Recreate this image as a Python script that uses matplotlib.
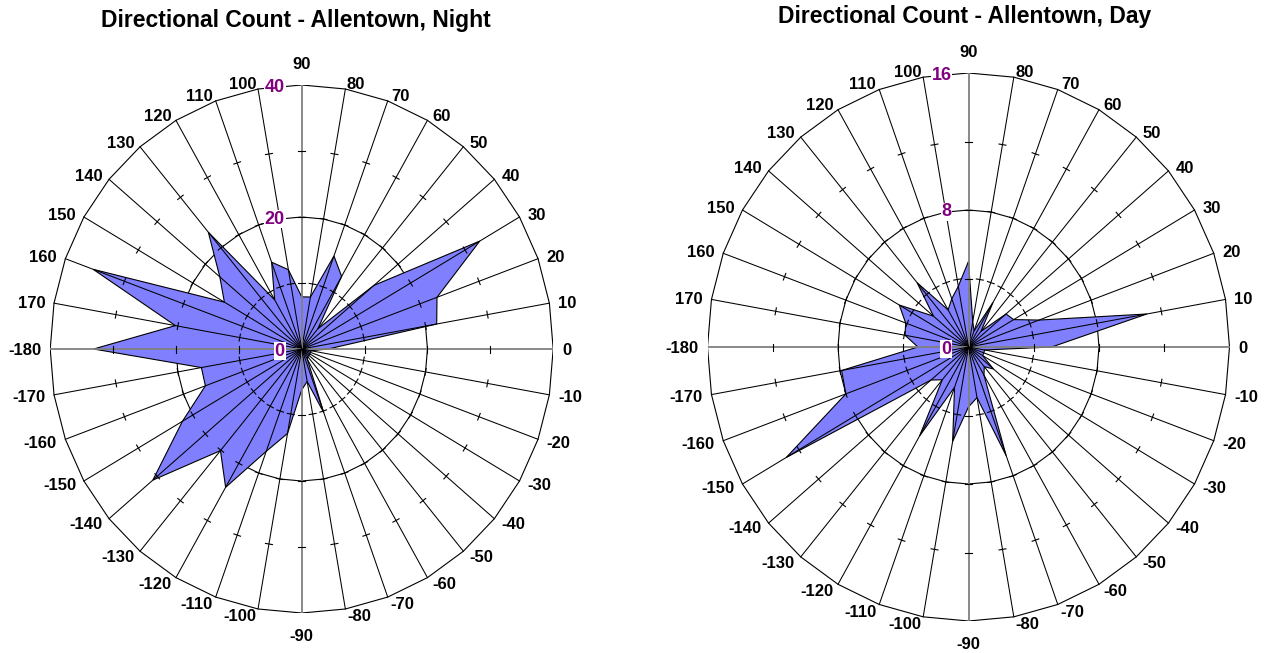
import numpy as np
import matplotlib
matplotlib.use("Agg")
import matplotlib.pyplot as plt

plt.rcParams["font.family"] = ["Liberation Sans", "DejaVu Sans"]

# direction labels as printed round the rim, counter-clockwise from 0
ANGLES = [0, 10, 20, 30, 40, 50, 60, 70, 80, 90, 100, 110, 120, 130, 140, 150, 160, 170,
          -180, -170, -160, -150, -140, -130, -120, -110, -100, -90, -80, -70, -60, -50, -40,
          -30, -20, -10]

# counts per 10-degree direction
NIGHT = [4.2, 21.8, 22.9, 32.7, 15, 4, 12.7, 15, 8, 7.9, 12.2, 14, 8.6, 23.1, 17, 14.2, 35.3, 20.4,
         33.1, 16.2, 16.3, 21.9, 30.9, 20.1, 24.2, 16.5, 13, 6.2, 5, 10.3, 1.8, 1.5, 1.5,
         1.5, 1.5, 1.5]
DAY = [5.1, 11.1, 4.6, 3.2, 3.0, 1.2, 3.0, 1.0, 1.5, 5.0, 3.6, 3.0, 2.5, 4.9, 2.8, 4.9, 4.1, 3.95,
       3.1, 7.9, 8.0, 12.9, 3.0, 2.5, 6.0, 2.5, 5.6, 3.5, 3.0, 6.75, 1.9, 1.5, 2.0,
       1.0, 1.0, 1.0]

NIGHT_RINGS = [0, 20, 40]
DAY_RINGS = [0, 8, 16]

FILL = "#8080ff"
PURPLE = "#800080"
W, H = 1267, 653


def rose(fig, cx, cy, rx, ry, counts, rings, title, tx, ty):
    rmax = rings[-1]
    ax = fig.add_axes([(cx - rx) / W, (H - cy - ry) / H, 2 * rx / W, 2 * ry / H])
    ax.set_xlim(-rmax, rmax); ax.set_ylim(-rmax, rmax); ax.axis("off")
    th = np.deg2rad(ANGLES)
    c, s = np.cos(th), np.sin(th)
    sx, sy = rx / rmax, ry / rmax           # pixels per data unit

    # 36-gon rings (under the fill)
    for r in rings[1:]:
        ax.plot(np.append(r * c, r * c[0]), np.append(r * s, r * s[0]),
                color="black", lw=0.8, zorder=1)

    v = np.array(counts)
    ax.fill(v * c, v * s, facecolor=FILL, edgecolor="black", lw=0.8, zorder=2)

    # spokes and the small ticks at quarter steps of the scale
    step = rings[1] / 2
    for a, ci, si in zip(ANGLES, c, s):
        axis = a % 90 == 0
        ax.plot([0, rmax * ci], [0, rmax * si], color="#808080" if axis else "black",
                lw=1.3 if axis else 0.75, zorder=3)
        px, py = -si * sy, ci * sx
        n = np.hypot(px, py)
        px, py = px / n * 3.5 / sx, py / n * 3.5 / sy
        for r in (step, 2 * step, 3 * step):
            ax.plot([r * ci - px, r * ci + px], [r * si - py, r * si + py],
                    color="black", lw=0.8, zorder=3)

    # direction labels
    for a, ci, si in zip(ANGLES, c, s):
        if abs(ci) < 1e-6:
            ha, dx, dy = "center", 0, 22 * np.sign(si)
        else:
            ha = "left" if ci > 0 else "right"
            dx, dy = 9 * ci, 6.5 * si
        ax.annotate(str(a), (rmax * ci, rmax * si), xytext=(dx, dy),
                    textcoords="offset pixels", ha=ha, va="center_baseline",
                    fontsize=12, fontweight="bold", annotation_clip=False, zorder=5)

    # radial scale labels left of the 90 spoke
    for r in rings:
        ax.annotate(str(r), (0, r), xytext=(-17, 0), textcoords="offset pixels",
                    ha="right", va="center_baseline", fontsize=13, fontweight="bold",
                    color=PURPLE, annotation_clip=False, zorder=6,
                    bbox=dict(facecolor="white", edgecolor="none", pad=0.6))

    fig.text(tx / W, 1 - ty / H, title, ha="center", va="center",
             fontsize=16.5, fontweight="bold")


fig = plt.figure(figsize=(W / 100, H / 100), dpi=100)
rose(fig, 301.7, 349, 251.5, 264, NIGHT, NIGHT_RINGS,
     "Directional Count - Allentown, Night", 295.5, 21)
rose(fig, 968.5, 347, 261, 274, DAY, DAY_RINGS,
     "Directional Count - Allentown, Day", 964.5, 17)
fig.savefig("out.png", dpi=100)
